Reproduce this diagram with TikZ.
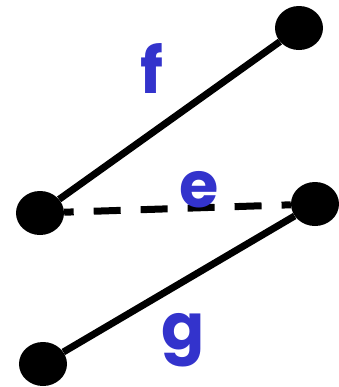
\documentclass[tikz,border=0pt]{standalone}
\usepackage{fontspec}
\setmainfont{Poppins}
\usetikzlibrary{shapes.geometric}
\definecolor{lbl}{HTML}{3333CC}
\tikzset{
  dot/.style={ellipse, fill=black, inner sep=0pt, minimum width=48bp, minimum height=44bp},
  edge/.style={line width=7bp},
  lab/.style={text=lbl, font=\fontsize{64}{64}\selectfont\bfseries, inner sep=0pt, anchor=base}
}
\begin{document}
\begin{tikzpicture}[x=1bp,y=-1bp]
\useasboundingbox (0,0) rectangle (339,387);
\node[dot] (tr) at (299,28) {};
\node[dot] (ml) at (40,213) {};
\node[dot] (mr) at (315,204) {};
\node[dot] (bl) at (43,364) {};
\draw[edge] (ml) -- (tr);
\draw[edge, dash pattern=on 27bp off 20bp, dash phase=17.5bp] (ml) -- (mr);
\draw[edge] (mr) -- (bl);
\node[lab] (f) at (152,93) {f};
\node[lab] (e) at (199,207) {e};
\node[lab] (g) at (183,349) {g};
\end{tikzpicture}
\end{document}
